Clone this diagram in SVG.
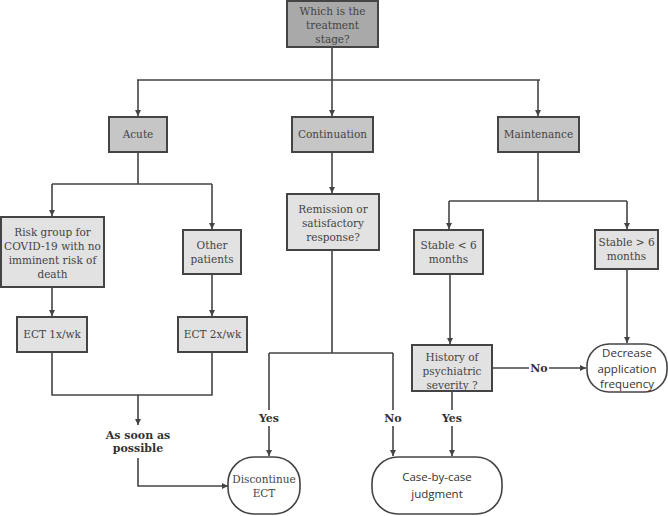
<svg xmlns="http://www.w3.org/2000/svg" width="668" height="516" viewBox="0 0 668 516">
<defs>
<marker id="ah" viewBox="0 0 10 10" refX="10" refY="5" markerWidth="6" markerHeight="6" orient="auto" markerUnits="userSpaceOnUse"><path d="M0,0 L10,5 L0,10 Z" fill="#444"/></marker>
<style>
.box{stroke:#444;stroke-width:2}
.dark{fill:#a9a9a9}
.mid{fill:#c6c6c6}
.light{fill:#e2e2e2}
.term{fill:#fff;stroke:#444;stroke-width:1.6}
.t{font-family:"DejaVu Serif","Liberation Serif",serif;font-size:10.5px;fill:#444;text-anchor:middle}
.s{font-family:"Open Sans","Liberation Sans",sans-serif;font-size:11.5px;fill:#333;text-anchor:middle}
.lb{font-family:"DejaVu Serif","Liberation Serif",serif;font-size:11px;font-weight:bold;fill:#333;text-anchor:middle}
.c{fill:none;stroke:#444;stroke-width:1.6}
</style>
</defs>
<rect width="668" height="516" fill="#fff"/>
<g id="connectors">
<path class="c" d="M332,47 V80 M137,80 H540"/>
<path class="c" d="M138,80 V116" marker-end="url(#ah)"/>
<path class="c" d="M332,80 V116" marker-end="url(#ah)"/>
<path class="c" d="M538,80 V116" marker-end="url(#ah)"/>
<path class="c" d="M138,152 V184 M52,184 H212"/>
<path class="c" d="M52,184 V216" marker-end="url(#ah)"/>
<path class="c" d="M212,184 V229" marker-end="url(#ah)"/>
<path class="c" d="M332,152 V193" marker-end="url(#ah)"/>
<path class="c" d="M538,152 V201 M449,201 H627"/>
<path class="c" d="M449,201 V229" marker-end="url(#ah)"/>
<path class="c" d="M627,201 V229" marker-end="url(#ah)"/>
<path class="c" d="M52,287 V316" marker-end="url(#ah)"/>
<path class="c" d="M212,274 V316" marker-end="url(#ah)"/>
<path class="c" d="M52,352 V395 H212 V352 M138,395 V425" marker-end="url(#ah)"/>
<path class="c" d="M138,458 V486 H228" marker-end="url(#ah)"/>
<path class="c" d="M332,250 V353 M269,353 H393"/>
<path class="c" d="M269,353 V456" marker-end="url(#ah)"/>
<path class="c" d="M393,353 V456" marker-end="url(#ah)"/>
<path class="c" d="M450,274 V344" marker-end="url(#ah)"/>
<path class="c" d="M627,269 V343" marker-end="url(#ah)"/>
<path class="c" d="M492,368 H586" marker-end="url(#ah)"/>
<path class="c" d="M452,391 V456" marker-end="url(#ah)"/>
<rect x="253" y="410" width="32" height="16" fill="#fff"/>
<text class="lb" x="269" y="422">Yes</text>
<rect x="381" y="410" width="24" height="16" fill="#fff"/>
<text class="lb" x="393" y="422">No</text>
<rect x="436" y="410" width="32" height="16" fill="#fff"/>
<text class="lb" x="452" y="422">Yes</text>
<rect x="529" y="361" width="20" height="14" fill="#fff"/>
<text class="lb" x="539" y="372">No</text>
</g>
<g id="n-stage"><rect class="box dark" x="287" y="1" width="91" height="46"/><text class="t" x="332.5" y="15">Which is the</text><text class="t" x="332.5" y="29">treatment</text><text class="t" x="332.5" y="43">stage?</text></g>
<g id="n-acute"><rect class="box mid" x="109" y="117" width="58" height="35"/><text class="t" x="138" y="138">Acute</text></g>
<g id="n-cont"><rect class="box mid" x="292" y="117" width="81" height="35"/><text class="t" x="332.5" y="138">Continuation</text></g>
<g id="n-maint"><rect class="box mid" x="498" y="117" width="81" height="35"/><text class="t" x="538.5" y="138">Maintenance</text></g>
<g id="n-risk"><rect class="box light" x="1" y="217" width="103" height="70"/><text class="t" x="52.5" y="236">Risk group for</text><text class="t" x="52.5" y="250">COVID-19 with no</text><text class="t" x="52.5" y="264">imminent risk of</text><text class="t" x="52.5" y="278">death</text></g>
<g id="n-other"><rect class="box light" x="183" y="230" width="58" height="44"/><text class="t" x="212" y="249">Other</text><text class="t" x="212" y="263">patients</text></g>
<g id="n-remission"><rect class="box light" x="287" y="194" width="92" height="56"/><text class="t" x="333" y="213">Remission or</text><text class="t" x="333" y="227">satisfactory</text><text class="t" x="333" y="241">response?</text></g>
<g id="n-stable-lt"><rect class="box light" x="414" y="230" width="69" height="44"/><text class="t" x="448.5" y="249">Stable &lt; 6</text><text class="t" x="448.5" y="263">months</text></g>
<g id="n-stable-gt"><rect class="box light" x="595" y="230" width="63" height="39"/><text class="t" x="626.5" y="246">Stable &gt; 6</text><text class="t" x="626.5" y="260">months</text></g>
<g id="n-ect1"><rect class="box light" x="17" y="317" width="70" height="35"/><text class="t" x="52" y="338">ECT 1x/wk</text></g>
<g id="n-ect2"><rect class="box light" x="178" y="317" width="69" height="35"/><text class="t" x="212.5" y="338">ECT 2x/wk</text></g>
<g id="n-asap"><text class="lb" x="138" y="439">As soon as</text><text class="lb" x="138" y="452">possible</text></g>
<g id="n-history"><rect class="box light" x="412" y="345" width="80" height="46"/><text class="t" x="452" y="361">History of</text><text class="t" x="452" y="375">psychiatric</text><text class="t" x="452" y="389">severity ?</text></g>
<g id="n-decrease"><rect class="term" x="587" y="344" width="80" height="48" rx="22"/><text class="s" x="627" y="357">Decrease</text><text class="s" x="627" y="372.5">application</text><text class="s" x="627" y="388">frequency</text></g>
<g id="n-discontinue"><rect class="term" x="228" y="457" width="72" height="57" rx="26"/><text class="t" x="264" y="483">Discontinue</text><text class="t" x="264" y="497">ECT</text></g>
<g id="n-case"><rect class="term" x="372" y="457" width="130" height="57" rx="26"/><text class="s" x="437" y="481">Case-by-case</text><text class="s" x="437" y="498">judgment</text></g>
</svg>
